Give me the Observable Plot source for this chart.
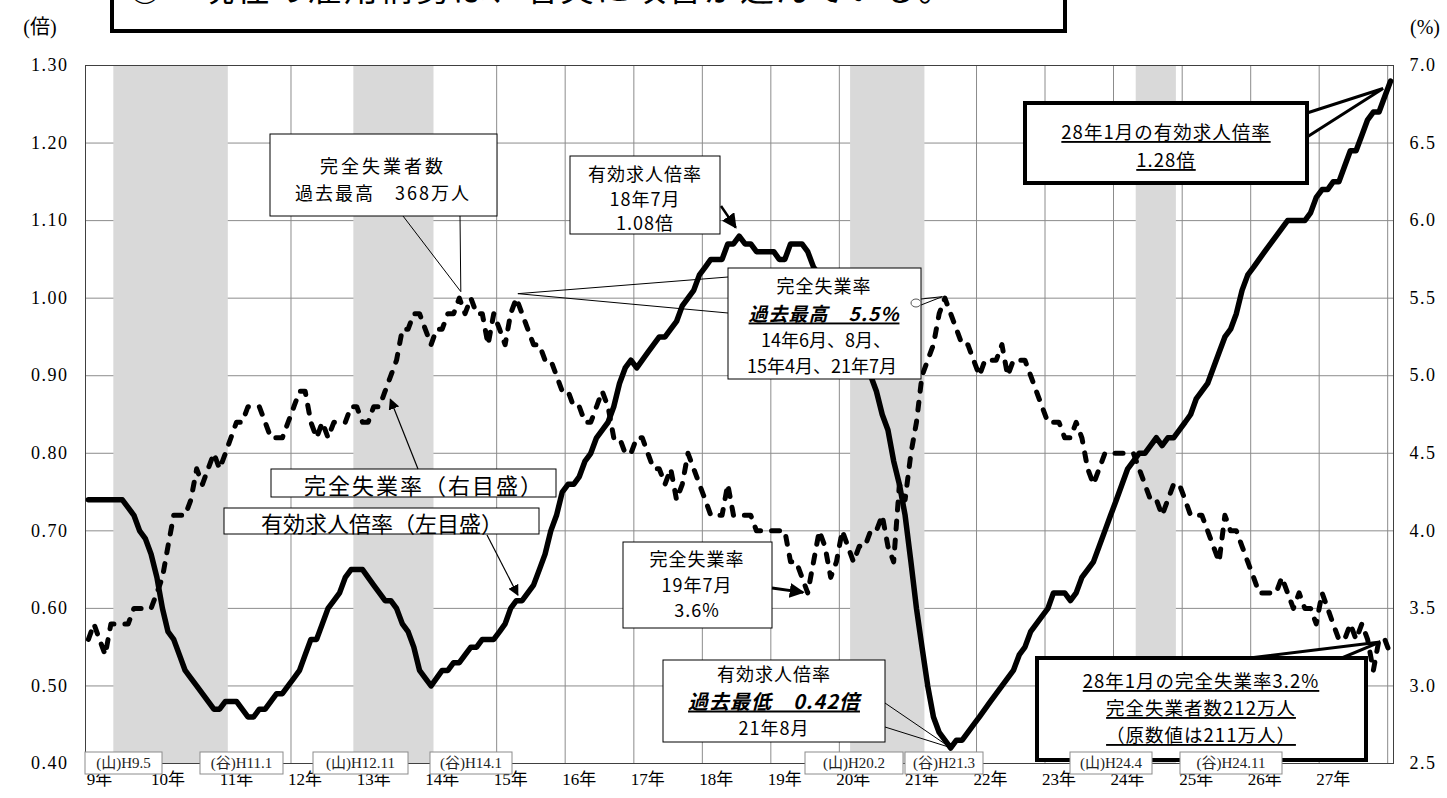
<!DOCTYPE html>
<html>
<head>
<meta charset="utf-8">
<script src="https://cdn.jsdelivr.net/npm/d3@7"></script>
<script src="https://cdn.jsdelivr.net/npm/@observablehq/plot@0.6"></script>
<style>
html, body { margin: 0; padding: 0; background: #fff; }
#chart { position: relative; width: 1447px; height: 798px; overflow: hidden; }
#chart svg g[aria-label="y-axis tick label"] text {
  font-family: 'Liberation Serif','DejaVu Serif','Noto Sans CJK JP',serif !important;
  font-size: 18px !important; letter-spacing: 1.5px;
}
#chart svg g[aria-label="x-axis tick label"] text {
  font-family: 'Liberation Serif','DejaVu Serif','Noto Sans CJK JP',serif !important;
  font-size: 17px !important;
}
</style>
</head>
<body>
<div id="chart"></div>
<script>
// ---------------- DATA ----------------
const startYear = 1997; // 平成9年1月 から 平成28年1月 まで（月次）
// 有効求人倍率（季節調整値, 倍）
const jobsRatio = [
  0.74,0.74,0.74,0.74,0.74,0.74,0.74,0.73,0.72,0.70,0.69,0.67, // 9年
  0.64,0.60,0.57,0.56,0.54,0.52,0.51,0.50,0.49,0.48,0.47,0.47, // 10年
  0.48,0.48,0.48,0.47,0.46,0.46,0.47,0.47,0.48,0.49,0.49,0.50, // 11年
  0.51,0.52,0.54,0.56,0.56,0.58,0.60,0.61,0.62,0.64,0.65,0.65, // 12年
  0.65,0.64,0.63,0.62,0.61,0.61,0.60,0.58,0.57,0.55,0.52,0.51, // 13年
  0.50,0.51,0.52,0.52,0.53,0.53,0.54,0.55,0.55,0.56,0.56,0.56, // 14年
  0.57,0.58,0.60,0.61,0.61,0.62,0.63,0.65,0.67,0.70,0.72,0.75, // 15年
  0.76,0.76,0.77,0.79,0.80,0.82,0.83,0.84,0.86,0.89,0.91,0.92, // 16年
  0.91,0.92,0.93,0.94,0.95,0.95,0.96,0.97,0.99,1.00,1.01,1.03, // 17年
  1.04,1.05,1.05,1.05,1.07,1.07,1.08,1.07,1.07,1.06,1.06,1.06, // 18年
  1.06,1.05,1.05,1.07,1.07,1.07,1.06,1.04,1.03,1.02,1.00,0.99, // 19年
  0.97,0.95,0.94,0.93,0.91,0.90,0.88,0.85,0.83,0.79,0.76,0.72, // 20年
  0.66,0.60,0.55,0.50,0.46,0.44,0.43,0.42,0.43,0.43,0.44,0.45, // 21年
  0.46,0.47,0.48,0.49,0.50,0.51,0.52,0.54,0.55,0.57,0.58,0.59, // 22年
  0.60,0.62,0.62,0.62,0.61,0.62,0.64,0.65,0.66,0.68,0.70,0.72, // 23年
  0.74,0.76,0.78,0.79,0.80,0.80,0.81,0.82,0.81,0.82,0.82,0.83, // 24年
  0.84,0.85,0.87,0.88,0.89,0.91,0.93,0.95,0.96,0.98,1.01,1.03, // 25年
  1.04,1.05,1.06,1.07,1.08,1.09,1.10,1.10,1.10,1.10,1.11,1.13, // 26年
  1.14,1.14,1.15,1.15,1.17,1.19,1.19,1.21,1.23,1.24,1.24,1.26, // 27年
  1.28                                                         // 28年1月
];
// 完全失業率（季節調整値, %）
const unemploymentRate = [
  3.3,3.4,3.3,3.2,3.4,3.4,3.4,3.4,3.5,3.5,3.5,3.5, // 9年
  3.6,3.7,3.9,4.1,4.1,4.1,4.2,4.4,4.3,4.4,4.5,4.4, // 10年
  4.5,4.6,4.7,4.7,4.8,4.8,4.8,4.7,4.6,4.6,4.6,4.7, // 11年
  4.8,4.9,4.9,4.7,4.6,4.7,4.6,4.7,4.7,4.7,4.8,4.8, // 12年
  4.7,4.7,4.8,4.8,4.9,5.0,5.1,5.3,5.3,5.4,5.4,5.3, // 13年
  5.2,5.3,5.3,5.4,5.4,5.5,5.4,5.5,5.4,5.4,5.2,5.4, // 14年
  5.3,5.2,5.4,5.5,5.4,5.3,5.2,5.2,5.1,5.1,5.0,4.9, // 15年
  4.9,4.8,4.8,4.7,4.7,4.8,4.9,4.8,4.6,4.6,4.5,4.5, // 16年
  4.6,4.6,4.5,4.4,4.4,4.3,4.4,4.2,4.3,4.5,4.4,4.3, // 17年
  4.2,4.1,4.1,4.1,4.3,4.1,4.1,4.1,4.1,4.0,4.0,4.0, // 18年
  4.0,4.0,4.0,3.8,3.8,3.7,3.6,3.8,4.0,3.9,3.7,3.8, // 19年
  4.0,3.9,3.8,3.9,3.9,4.0,4.0,4.1,3.9,3.8,4.3,4.2, // 20年
  4.5,4.7,5.0,5.1,5.2,5.4,5.5,5.4,5.3,5.2,5.2,5.1, // 21年
  5.0,5.1,5.1,5.1,5.2,5.0,5.1,5.1,5.1,5.0,4.9,4.8, // 22年
  4.7,4.7,4.7,4.6,4.6,4.7,4.6,4.4,4.3,4.4,4.5,4.5, // 23年
  4.5,4.5,4.5,4.5,4.4,4.3,4.2,4.2,4.1,4.2,4.3,4.3, // 24年
  4.2,4.1,4.1,4.1,4.0,3.9,3.8,4.1,4.0,4.0,3.9,3.8, // 25年
  3.7,3.6,3.6,3.6,3.6,3.7,3.6,3.5,3.6,3.5,3.5,3.4, // 26年
  3.6,3.5,3.4,3.3,3.3,3.4,3.3,3.4,3.3,3.1,3.3,3.3, // 27年
  3.2                                              // 28年1月
];
const yearLabels = ["9年","10年","11年","12年","13年","14年","15年","16年","17年","18年",
                    "19年","20年","21年","22年","23年","24年","25年","26年","27年"];
const leftTickValues = [0.40,0.50,0.60,0.70,0.80,0.90,1.00,1.10,1.20,1.30];
const leftTickLabels = ["0.40","0.50","0.60","0.70","0.80","0.90","1.00","1.10","1.20","1.30"];
const rightTickValues = [2.5,3.0,3.5,4.0,4.5,5.0,5.5,6.0,6.5,7.0];
const rightTickLabels = ["2.5","3.0","3.5","4.0","4.5","5.0","5.5","6.0","6.5","7.0"];
// 景気の山・谷
const recessionPeaks   = ["1997-05","2000-11","2008-02","2012-04"];
const recessionTroughs = ["1999-01","2002-01","2009-03","2012-11"];
const peakLabels   = ["(山)H9.5","(山)H12.11","(山)H20.2","(山)H24.4"];
const troughLabels = ["(谷)H11.1","(谷)H14.1","(谷)H21.3","(谷)H24.11"];

// ---------------- HELPERS ----------------
const SERIF = "'Liberation Serif','DejaVu Serif','Noto Sans CJK JP',serif";
const SANS = "'Noto Sans CJK JP','Noto Sans',sans-serif";
const monthStart = i => new Date(Date.UTC(startYear, i, 1));
const monthCenter = i => new Date((+monthStart(i) + +monthStart(i + 1)) / 2);
const monthIndex = s => { const [y, m] = s.split("-").map(Number); return (y - startYear) * 12 + (m - 1); };
// 右目盛（%）を左目盛（倍）の位置へ
const toLeft = u => leftTickValues[0] + (u - rightTickValues[0]) / 5;

const jobsData = jobsRatio.map((v, i) => ({date: monthCenter(i), value: v}));
const unempData = unemploymentRate.map((u, i) => ({date: monthCenter(i), rate: u, left: toLeft(u)}));
const recessions = recessionPeaks.map((p, i) => ({
  start: monthStart(monthIndex(p) + 1),
  end: monthStart(monthIndex(recessionTroughs[i]) + 1)
}));
const nMonths = jobsRatio.length;
const yearDates = yearLabels.map((d, i) => monthStart(i * 12));
const gridDates = d3.range(0, nMonths, 12).map(monthStart);

// ---------------- PLOT ----------------
const plot = Plot.plot({
  width: 1447, height: 798,
  marginLeft: 85, marginRight: 54, marginTop: 65, marginBottom: 35,
  style: {fontFamily: SERIF, fontSize: "17px", background: "white", color: "black", overflow: "visible"},
  x: {type: "utc", domain: [monthStart(0), monthStart(nMonths)]},
  y: {domain: [leftTickValues[0], leftTickValues[leftTickValues.length - 1]]},
  marks: [
    Plot.gridY(leftTickValues, {stroke: "#8c8c8c", strokeOpacity: 1, strokeWidth: 1}),
    Plot.gridX(gridDates, {stroke: "#8c8c8c", strokeOpacity: 1, strokeWidth: 1}),
    Plot.rect(recessions, {x1: "start", x2: "end", fill: "#d9d9d9"}),
    Plot.frame({stroke: "#404040", strokeWidth: 1}),
    Plot.axisY(leftTickValues, {anchor: "left", tickSize: 0, tickPadding: 17, label: null,
      fontSize: 18, fontFamily: SERIF,
      tickFormat: d => leftTickLabels[Math.round((d - leftTickValues[0]) * 10)]}),
    Plot.axisY(rightTickValues.map(toLeft), {anchor: "right", tickSize: 0, tickPadding: 16, label: null,
      fontSize: 18, fontFamily: SERIF,
      tickFormat: d => rightTickLabels[Math.round((d - leftTickValues[0]) * 10)]}),
    Plot.axisX(yearDates, {anchor: "bottom", tickSize: 0, tickPadding: 9, label: null, dx: 14,
      fontSize: 17, fontFamily: SERIF,
      tickFormat: d => yearLabels[d.getUTCFullYear() - startYear]}),
    Plot.line(jobsData, {x: "date", y: "value", stroke: "black", strokeWidth: 5.5, strokeLinejoin: "round"}),
    Plot.line(unempData, {x: "date", y: "left", stroke: "black", strokeWidth: 5,
      strokeDasharray: "8 11", strokeLinecap: "round", strokeLinejoin: "round"})
  ]
});
document.getElementById("chart").appendChild(plot);

// ---------------- ANNOTATIONS ----------------
const xs = plot.scale("x"), ys = plot.scale("y");
const px = i => xs.apply(monthCenter(i));
const pyJobs = v => ys.apply(v);
const pyRate = u => ys.apply(toLeft(u));

const svg = d3.select(plot);
const defs = svg.append("defs");
function marker(id, size) {
  defs.append("marker").attr("id", id).attr("viewBox", "0 0 10 10").attr("refX", 9).attr("refY", 5)
    .attr("markerUnits", "userSpaceOnUse").attr("markerWidth", size).attr("markerHeight", size)
    .attr("orient", "auto").append("path").attr("d", "M0,0 L10,5 L0,10 z").attr("fill", "black");
}
marker("ahThin", 11);
marker("ahThick", 15);

const ann = svg.append("g");
function box(x, y, w, h, sw = 1, stroke = "black") {
  ann.append("rect").attr("x", x).attr("y", y).attr("width", w).attr("height", h)
    .attr("fill", "white").attr("stroke", stroke).attr("stroke-width", sw);
}
function label(t, x, y, o = {}) {
  ann.append("text").attr("x", x).attr("y", y)
    .attr("text-anchor", o.anchor || "middle").attr("dominant-baseline", "central")
    .style("font-family", o.family || SANS).style("font-size", (o.size || 18) + "px")
    .attr("font-weight", o.weight || "normal").attr("font-style", o.style || "normal")
    .attr("text-decoration", o.underline ? "underline" : null)
    .style("letter-spacing", (o.ls == null ? 1 : o.ls) + "px")
    .attr("fill", o.fill || "black").text(t);
}
function poly(points, o = {}) {
  ann.append("path").attr("d", d3.line()(points) + (o.close ? "Z" : ""))
    .attr("fill", o.fill || "none").attr("stroke", "black").attr("stroke-width", o.sw || 1)
    .attr("stroke-linejoin", "miter")
    .attr("marker-end", o.marker ? `url(#${o.marker})` : null);
}

// title box (cut off at the top)
box(112, -12, 953, 43, 4);
label("○　現在の雇用情勢は、着実に改善が進んでいる。", 128, -14, {anchor: "start", size: 34, ls: 2});

// unit labels
label("(倍)", 40, 27, {family: SERIF, size: 20, ls: 0});
label("(%)", 1425, 27, {family: SERIF, size: 20, ls: 0});

// 完全失業者数 過去最高
poly([[403, 216], [px(65) + 2, pyRate(5.5) - 6], [460, 216]]);
box(270, 134, 227, 82);
label("完全失業者数", 383, 165, {ls: 3});
label("過去最高　368万人", 383, 192, {ls: 2});

// 有効求人倍率 18年7月
box(570, 156, 150, 78);
label("有効求人倍率", 645, 173);
label("18年7月", 645, 198);
label("1.08倍", 645, 222);
poly([[721, 206], [px(114) - 3, pyJobs(1.08) - 8]], {sw: 2.5, marker: "ahThick"});

// 完全失業率 過去最高 5.5%
poly([[728, 277], [px(75) + 2, pyRate(5.5) - 4], [728, 313]]);
box(728, 268, 193, 111);
label("完全失業率", 824, 285);
label("過去最高　5.5%", 824, 312, {weight: "bold", style: "italic", underline: true, size: 19});
label("14年6月、8月、", 826, 339, {ls: 0});
label("15年4月、21年7月", 822, 365, {ls: 0});
poly([[921, 299], [px(150) - 2, pyRate(5.5) - 1], [921, 305]]);
ann.append("ellipse").attr("cx", 916).attr("cy", 303).attr("rx", 5).attr("ry", 4)
  .attr("fill", "white").attr("stroke", "#555").attr("stroke-width", 1);

// 完全失業率（右目盛）
box(271, 469, 285, 28);
label("完全失業率（右目盛）", 304, 484, {anchor: "start", size: 22, ls: 2});
poly([[418, 469], [px(53), pyRate(unemploymentRate[53]) + 24]], {sw: 1.2, marker: "ahThin"});

// 有効求人倍率（左目盛）
box(224, 508, 315, 26);
label("有効求人倍率（左目盛）", 261, 522, {anchor: "start", size: 22, ls: 0});
poly([[487, 535], [px(75) + 2, pyJobs(jobsRatio[75]) - 5]], {sw: 1.2, marker: "ahThin"});

// 完全失業率 19年7月 3.6%
box(623, 542, 149, 86);
label("完全失業率", 697, 558);
label("19年7月", 697, 584);
label("3.6%", 697, 609);
poly([[772, 588], [px(126) - 4, pyRate(3.6)]], {sw: 3, marker: "ahThick"});

// 有効求人倍率 過去最低 0.42倍
poly([[885, 703], [px(151), pyJobs(0.42)], [885, 727]]);
box(663, 660, 222, 82);
label("有効求人倍率", 774, 673);
label("過去最低　0.42倍", 774, 700, {weight: "bold", style: "italic", underline: true, size: 20});
label("21年8月", 774, 727);

// 28年1月の有効求人倍率
poly([[1307, 113], [px(nMonths - 1) - 7, pyJobs(jobsRatio[nMonths - 1]) + 8], [1307, 137]], {sw: 3, fill: "white"});
box(1025, 103, 282, 80, 4);
label("28年1月の有効求人倍率", 1166, 131, {underline: true, size: 18.5});
label("1.28倍", 1166, 159, {underline: true, size: 18.5});

// 28年1月の完全失業率
poly([[1233, 660], [px(nMonths - 2) - 4, pyRate(unemploymentRate[nMonths - 2]) + 3], [1337, 660]], {sw: 3, fill: "white"});
box(1037, 658, 329, 102, 4);
label("28年1月の完全失業率3.2%", 1201, 680, {underline: true, size: 18.5});
label("完全失業者数212万人", 1201, 707, {underline: true, size: 18.5});
label("（原数値は211万人）", 1201, 734, {underline: true, size: 18.5});

// 景気の山・谷ラベル
const cycleBoxes = [
  {t: peakLabels[0], cx: 123.5, w: 77}, {t: troughLabels[0], cx: 241.5, w: 83},
  {t: peakLabels[1], cx: 360.5, w: 95}, {t: troughLabels[1], cx: 471, w: 82},
  {t: peakLabels[2], cx: 854, w: 98}, {t: troughLabels[2], cx: 944, w: 78},
  {t: peakLabels[3], cx: 1111, w: 82}, {t: troughLabels[3], cx: 1231, w: 102}
];
cycleBoxes.forEach(b => {
  box(b.cx - b.w / 2, 752, b.w, 22, 1, "#8c8c8c");
  label(b.t, b.cx, 763, {family: SERIF, size: 15, ls: 0, fill: "#222"});
});
</script>
</body>
</html>
